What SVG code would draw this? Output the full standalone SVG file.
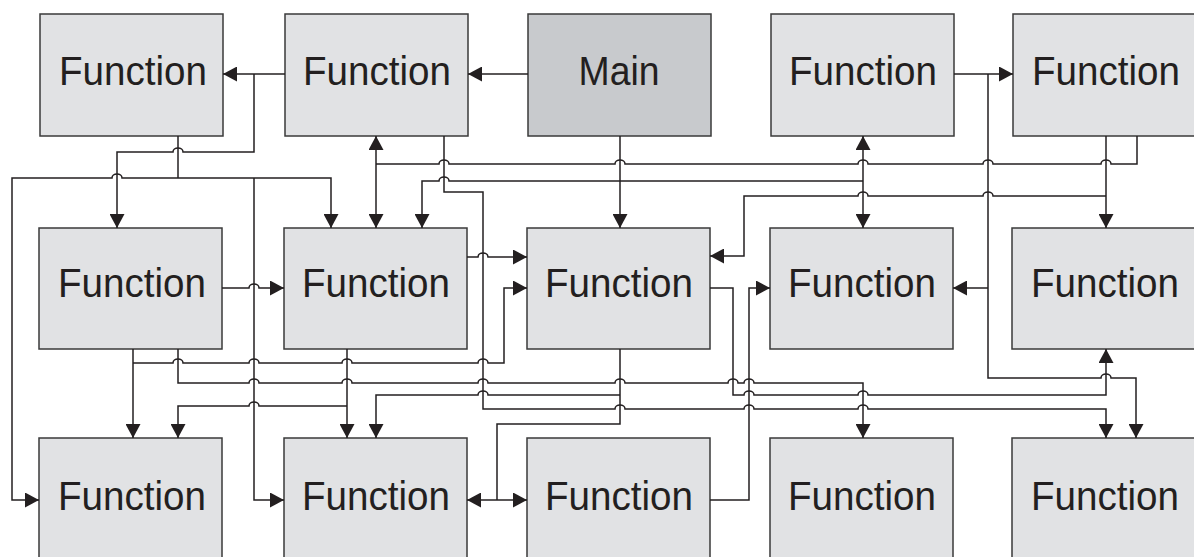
<svg xmlns="http://www.w3.org/2000/svg" width="1194" height="557" viewBox="0 0 1194 557">
  <style>
    .box { fill: #e1e2e4; stroke: #3a3a3a; stroke-width: 1.5; }
    .main { fill: #c8cacd; }
    .lbl { font-family: "Liberation Sans", "DejaVu Sans", sans-serif; font-size: 41px; fill: #231f20; text-anchor: middle; }
    .wire { fill: none; stroke: #231f20; stroke-width: 1.5; }
    .to { marker-end: url(#ah); }
    .both { marker-start: url(#ah); marker-end: url(#ah); }
  </style>
  <defs>
    <marker id="ah" viewBox="0 0 14 15" refX="14" refY="7.5" markerWidth="14" markerHeight="15" markerUnits="userSpaceOnUse" orient="auto-start-reverse">
      <path d="M0,0 L14,7.5 L0,15 z" fill="#231f20"/>
    </marker>
  </defs>
  <rect width="1194" height="557" fill="#ffffff"/>

  <!-- top row -->
  <g id="fn-r1c1"><rect class="box" x="40" y="14" width="183" height="122"/><text class="lbl" x="133" y="85" textLength="148" lengthAdjust="spacingAndGlyphs">Function</text></g>
  <g id="fn-r1c2"><rect class="box" x="285" y="14" width="183" height="122"/><text class="lbl" x="377" y="85" textLength="148" lengthAdjust="spacingAndGlyphs">Function</text></g>
  <g id="main"><rect class="box main" x="528" y="14" width="183" height="122"/><text class="lbl" x="619" y="85" textLength="81" lengthAdjust="spacingAndGlyphs">Main</text></g>
  <g id="fn-r1c4"><rect class="box" x="771" y="14" width="183" height="122"/><text class="lbl" x="863" y="85" textLength="148" lengthAdjust="spacingAndGlyphs">Function</text></g>
  <g id="fn-r1c5"><rect class="box" x="1013" y="14" width="184" height="122"/><text class="lbl" x="1106" y="85" textLength="148" lengthAdjust="spacingAndGlyphs">Function</text></g>

  <!-- middle row -->
  <g id="fn-r2c1"><rect class="box" x="39" y="228" width="183" height="121"/><text class="lbl" x="132" y="297" textLength="148" lengthAdjust="spacingAndGlyphs">Function</text></g>
  <g id="fn-r2c2"><rect class="box" x="284" y="228" width="183" height="121"/><text class="lbl" x="376" y="297" textLength="148" lengthAdjust="spacingAndGlyphs">Function</text></g>
  <g id="fn-r2c3"><rect class="box" x="527" y="228" width="183" height="121"/><text class="lbl" x="619" y="297" textLength="148" lengthAdjust="spacingAndGlyphs">Function</text></g>
  <g id="fn-r2c4"><rect class="box" x="770" y="228" width="183" height="121"/><text class="lbl" x="862" y="297" textLength="148" lengthAdjust="spacingAndGlyphs">Function</text></g>
  <g id="fn-r2c5"><rect class="box" x="1012" y="228" width="184" height="121"/><text class="lbl" x="1105" y="297" textLength="148" lengthAdjust="spacingAndGlyphs">Function</text></g>

  <!-- bottom row -->
  <g id="fn-r3c1"><rect class="box" x="39" y="438" width="183" height="125"/><text class="lbl" x="132" y="510" textLength="148" lengthAdjust="spacingAndGlyphs">Function</text></g>
  <g id="fn-r3c2"><rect class="box" x="284" y="438" width="183" height="125"/><text class="lbl" x="376" y="510" textLength="148" lengthAdjust="spacingAndGlyphs">Function</text></g>
  <g id="fn-r3c3"><rect class="box" x="527" y="438" width="183" height="125"/><text class="lbl" x="619" y="510" textLength="148" lengthAdjust="spacingAndGlyphs">Function</text></g>
  <g id="fn-r3c4"><rect class="box" x="770" y="438" width="183" height="125"/><text class="lbl" x="862" y="510" textLength="148" lengthAdjust="spacingAndGlyphs">Function</text></g>
  <g id="fn-r3c5"><rect class="box" x="1012" y="438" width="184" height="125"/><text class="lbl" x="1105" y="510" textLength="148" lengthAdjust="spacingAndGlyphs">Function</text></g>

  <!-- connectors; horizontal runs hop over the verticals they cross -->
  <g id="connectors" class="wire">
    <path class="to" d="M528,74 H468"/>
    <path class="to" d="M285,74 H223"/>
    <path class="to" d="M254,74 V152 H183 a5,4 0 0 0 -10,0 H117 V228"/>
    <path d="M178,136 V178"/>
    <path class="to" d="M178,178 H122 a5,4 0 0 0 -10,0 H12 V500 H39"/>
    <path class="to" d="M178,178 H331 V228"/>
    <path class="to" d="M254,178 V500 H284"/>

    <path d="M1137,136 V164 H1111 a5,4 0 0 0 -10,0 H993 a5,4 0 0 0 -10,0 H868 a5,4 0 0 0 -10,0 H625 a5,4 0 0 0 -10,0 H449 a5,4 0 0 0 -10,0 H376"/>
    <path class="both" d="M376,136 V228"/>
    <path class="both" d="M863,136 V228"/>
    <path class="to" d="M863,181 H449 a5,4 0 0 0 -10,0 H422 V228"/>
    <path class="to" d="M444,136 V192 H483 V409 H615 a5,4 0 0 1 10,0 H744 a5,4 0 0 1 10,0 H858 a5,4 0 0 1 10,0 H1106 V438"/>
    <path class="to" d="M620,136 V228"/>

    <path class="to" d="M954,74 H1013"/>
    <path class="to" d="M988,74 V378 H1101 a5,4 0 0 1 10,0 H1136 V438"/>
    <path class="to" d="M988,288 H953"/>
    <path class="to" d="M1106,136 V228"/>
    <path class="to" d="M1106,196 H993 a5,4 0 0 0 -10,0 H868 a5,4 0 0 0 -10,0 H744 V256 H710"/>

    <path class="to" d="M222,288 H249 a5,4 0 0 1 10,0 H284"/>
    <path class="to" d="M467,257 H478 a5,4 0 0 1 10,0 H527"/>

    <path class="to" d="M133,349 V438"/>
    <path class="to" d="M133,363 H173 a5,4 0 0 1 10,0 H249 a5,4 0 0 1 10,0 H342 a5,4 0 0 1 10,0 H478 a5,4 0 0 1 10,0 H504 V288 H527"/>
    <path class="to" d="M178,349 V383 H249 a5,4 0 0 1 10,0 H342 a5,4 0 0 1 10,0 H478 a5,4 0 0 1 10,0 H615 a5,4 0 0 1 10,0 H728 a5,4 0 0 1 10,0 H744 a5,4 0 0 1 10,0 H863 V438"/>
    <path class="to" d="M347,349 V438"/>
    <path class="to" d="M347,406 H259 a5,4 0 0 0 -10,0 H178 V438"/>

    <path d="M620,349 V424 H497 V500"/>
    <path class="both" d="M467,500 H527"/>
    <path class="to" d="M620,395 H488 a5,4 0 0 0 -10,0 H376 V438"/>
    <path class="to" d="M710,288 H733 V395 H744 a5,4 0 0 1 10,0 H858 a5,4 0 0 1 10,0 H1106 V349"/>
    <path class="to" d="M710,500 H749 V288 H770"/>
  </g>
</svg>
